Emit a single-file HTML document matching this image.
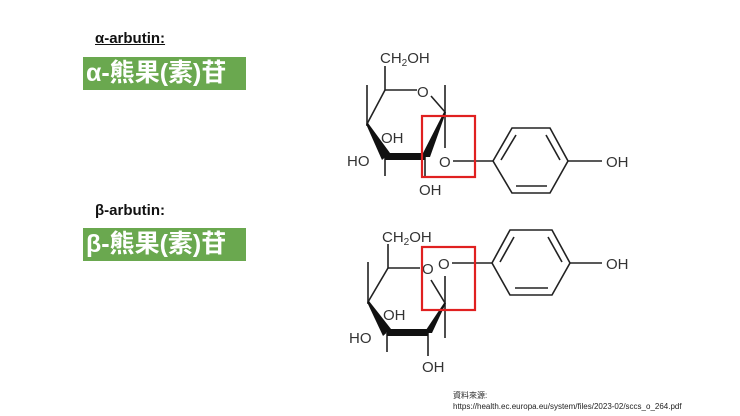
<!DOCTYPE html>
<html><head><meta charset="utf-8"><style>
html,body{margin:0;padding:0;background:#fff;}
body{width:740px;height:416px;position:relative;overflow:hidden;font-family:"Liberation Sans","Noto Sans CJK TC",sans-serif;}
.lab{position:absolute;left:95px;font-weight:bold;font-size:15px;color:#111;}
.box{position:absolute;left:83px;width:163px;height:33px;background:#6aa84f;color:#fff;font-weight:bold;font-size:25px;line-height:33px;text-align:left;padding-left:3px;box-sizing:border-box;font-family:"Liberation Sans","Noto Sans CJK TC",sans-serif;}
.src{position:absolute;left:453px;font-size:8px;color:#222;}
</style></head><body>
<div class="lab" style="top:30px;text-decoration:underline;">α-arbutin:</div>
<div class="box" style="top:57px;">α-熊果(素)苷</div>
<div class="lab" style="top:202px;">β-arbutin:</div>
<div class="box" style="top:228px;">β-熊果(素)苷</div>
<div class="src" style="top:390px;">資料來源:</div>
<div class="src" style="top:402px;">https://health.ec.europa.eu/system/files/2023-02/sccs_o_264.pdf</div>

<svg width="740" height="416" style="position:absolute;left:0;top:0" font-family="Liberation Sans, sans-serif">
<g stroke="#222" stroke-width="1.6" fill="none">
<!-- alpha -->
<line x1="385" y1="66" x2="385" y2="90"/>
<line x1="385" y1="90" x2="417" y2="90"/>
<line x1="431" y1="96" x2="445" y2="112"/>
<line x1="445" y1="85" x2="445" y2="148"/>
<line x1="385" y1="90" x2="367" y2="124"/>
<line x1="367" y1="85" x2="367" y2="126"/>
<line x1="385" y1="157" x2="385" y2="176"/>
<line x1="425" y1="157" x2="425" y2="178"/>
<line x1="453" y1="161" x2="493" y2="161"/>
<polygon points="493,161 512,128 550,128 568,161 550,193 512,193"/>
<line x1="501" y1="160" x2="516" y2="135"/>
<line x1="546" y1="135" x2="560" y2="160"/>
<line x1="516" y1="186" x2="547" y2="186"/>
<line x1="568" y1="161" x2="602" y2="161"/>
<!-- beta -->
<line x1="388" y1="244" x2="388" y2="268"/>
<line x1="388" y1="268" x2="420" y2="268"/>
<line x1="431" y1="280" x2="445" y2="303"/>
<line x1="445" y1="276" x2="445" y2="338"/>
<line x1="388" y1="268" x2="368" y2="302"/>
<line x1="368" y1="262" x2="368" y2="304"/>
<line x1="387" y1="333" x2="387" y2="352"/>
<line x1="428" y1="333" x2="428" y2="356"/>
<line x1="452" y1="263" x2="492" y2="263"/>
<polygon points="492,263 510,230 552,230 570,263 552,295 510,295"/>
<line x1="500" y1="262" x2="514" y2="237"/>
<line x1="548" y1="237" x2="562" y2="262"/>
<line x1="515" y1="288" x2="548" y2="288"/>
<line x1="570" y1="263" x2="602" y2="263"/>
</g>
<g fill="#111">
<polygon points="366,124 368,123 390,153 382,160"/>
<rect x="385" y="153" width="40" height="7"/>
<polygon points="421,157 430,157 446,112 444,112"/>
<polygon points="367,302 369,301 391,329 383,336"/>
<rect x="387" y="329" width="41" height="7"/>
<polygon points="424,333 432,333 446,303 444,303"/>
</g>
<g font-size="15" fill="#333">
<text x="380" y="63">CH<tspan font-size="10" dy="3">2</tspan><tspan dy="-3">OH</tspan></text>
<text x="417" y="97">O</text>
<text x="381" y="143">OH</text>
<text x="347" y="166">HO</text>
<text x="439" y="167">O</text>
<text x="419" y="195">OH</text>
<text x="606" y="167">OH</text>
<text x="382" y="242">CH<tspan font-size="10" dy="3">2</tspan><tspan dy="-3">OH</tspan></text>
<text x="422" y="274">O</text>
<text x="438" y="269">O</text>
<text x="383" y="320">OH</text>
<text x="349" y="343">HO</text>
<text x="422" y="372">OH</text>
<text x="606" y="269">OH</text>
</g>
<rect x="422" y="116" width="53" height="61" fill="none" stroke="#e02020" stroke-width="2.2"/>
<rect x="422" y="247" width="53" height="63" fill="none" stroke="#e02020" stroke-width="2.2"/>
</svg>
</body></html>
